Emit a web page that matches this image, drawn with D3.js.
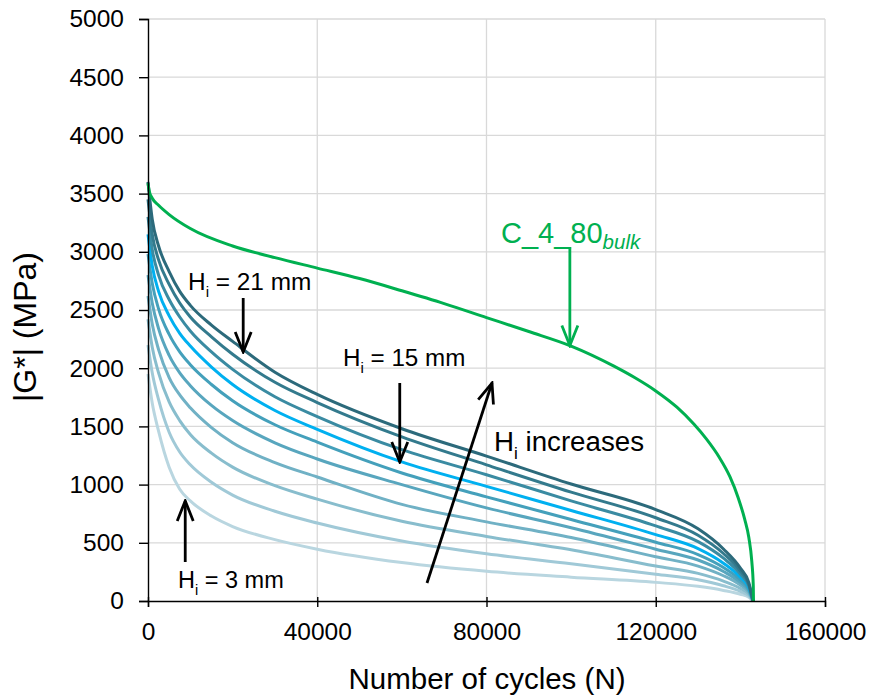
<!DOCTYPE html>
<html>
<head>
<meta charset="utf-8">
<script src="https://cdn.jsdelivr.net/npm/d3@7"></script>
<style>
  body { margin: 0; background: #fff; }
  svg { font-family: Arial, 'Liberation Sans', sans-serif; }
</style>
</head>
<body>
<svg id="chart" width="872" height="698"></svg>
<script>
const cycles = [0, 1000, 2500, 5000, 7500, 10000, 15000, 20000, 30000, 40000, 60000, 80000, 100000, 120000, 130000, 136000, 140000, 142000, 143000]

// |G*| (MPa) for each initial crack height Hi (mm)
const hiValues = [3, 5, 7, 9, 11, 13, 15, 17, 19, 21]
const g_hi3  = [1950, 1700, 1460, 1150,  960,  860,  730,  640,  527,  445,  330,  255,  205, 160, 126,  91,  58,  32, 0]
const g_hi5  = [2200, 1960, 1730, 1450, 1280, 1170, 1020,  910,  771,  670,  515,  405,  320, 230, 182, 131,  83,  46, 0]
const g_hi7  = [2420, 2180, 1960, 1710, 1550, 1430, 1270, 1150,  991,  875,  685,  555,  440, 300, 237, 171, 108,  60, 0]
const g_hi9  = [2620, 2380, 2160, 1920, 1770, 1660, 1490, 1360, 1189, 1065,  830,  680,  545, 380, 300, 217, 137,  76, 0]
const g_hi11 = [2800, 2560, 2340, 2110, 1960, 1850, 1680, 1550, 1359, 1220, 1000,  800,  630, 445, 352, 254, 160,  89, 0]
const g_hi13 = [2980, 2730, 2510, 2290, 2140, 2030, 1860, 1720, 1514, 1365, 1100,  895,  700, 505, 399, 288, 182, 101, 0]
const g_hi15 = [3150, 2880, 2660, 2450, 2300, 2190, 2010, 1860, 1637, 1475, 1195,  985,  778, 570, 450, 325, 205, 114, 0]
const g_hi17 = [3300, 3020, 2800, 2590, 2440, 2320, 2140, 1990, 1755, 1585, 1300, 1085,  860, 645, 510, 368, 232, 129, 0]
const g_hi19 = [3450, 3150, 2930, 2720, 2560, 2440, 2270, 2120, 1879, 1705, 1410, 1170,  935, 715, 565, 408, 257, 143, 0]
const g_hi21 = [3600, 3280, 3050, 2830, 2660, 2540, 2370, 2230, 1966, 1775, 1480, 1245, 1005, 785, 620, 447, 283, 157, 0]
const blueSeries = [g_hi3, g_hi5, g_hi7, g_hi9, g_hi11, g_hi13, g_hi15, g_hi17, g_hi19, g_hi21]
const blueColors = ['#b9d6e0', '#a0c9d7', '#88bdcd', '#70b1c5', '#58a6be', '#44a0bb', '#00b0f0', '#3a8ba2', '#337a8d', '#2c6a7b']

// bulk specimen C_4_80
const bulkCycles = [0, 300, 1000, 2500, 5000, 10000, 20000, 30000, 40000, 50000, 60000, 70000, 80000, 90000, 100000, 110000, 115000, 120000, 125000, 129000, 132000, 135000, 137500, 139500, 141000, 142000, 142700, 143050, 143100]
const bulkValues = [3590, 3520, 3460, 3400, 3320, 3200, 3050, 2950, 2860, 2770, 2665, 2555, 2435, 2315, 2190, 2020, 1920, 1805, 1665, 1520, 1390, 1235, 1070, 885, 705, 545, 340, 130, 0]

const xTicks = [0, 40000, 80000, 120000, 160000]
const yTicks = [0, 500, 1000, 1500, 2000, 2500, 3000, 3500, 4000, 4500, 5000]

const svg = d3.select('#chart')
const x = d3.scaleLinear().domain([0, 160000]).range([148, 825])
const y = d3.scaleLinear().domain([0, 5000]).range([601, 19])

// arrow heads
const defs = svg.append('defs')
function addHead(id, color) {
  defs.append('marker')
    .attr('id', id)
    .attr('markerUnits', 'userSpaceOnUse')
    .attr('viewBox', '0 0 24 20')
    .attr('refX', 22).attr('refY', 10)
    .attr('markerWidth', 24).attr('markerHeight', 20)
    .attr('orient', 'auto')
    .append('path')
    .attr('d', 'M2,2 L22,10 L2,18')
    .attr('fill', 'none')
    .attr('stroke', color)
    .attr('stroke-width', 2.8)
}
addHead('head-black', '#000')
addHead('head-green', '#00b050')

// grid
svg.append('g')
  .selectAll('line')
  .data(yTicks.filter(d => d > 0))
  .join('line')
  .attr('x1', x(0)).attr('x2', x(160000))
  .attr('y1', d => y(d)).attr('y2', d => y(d))
  .attr('stroke', '#d9d9d9').attr('stroke-width', 1.3)
svg.append('g')
  .selectAll('line')
  .data(xTicks.filter(d => d > 0))
  .join('line')
  .attr('x1', d => x(d)).attr('x2', d => x(d))
  .attr('y1', y(0)).attr('y2', y(5000))
  .attr('stroke', '#d9d9d9').attr('stroke-width', 1.3)

// curves
const line = d3.line().curve(d3.curveMonotoneX)
svg.append('g')
  .attr('fill', 'none')
  .attr('stroke-width', 3)
  .attr('stroke-linejoin', 'round')
  .selectAll('path')
  .data(blueSeries)
  .join('path')
  .attr('stroke', (d, i) => blueColors[i])
  .attr('d', vals => line(vals.map((v, i) => [x(cycles[i]), y(v)])))

svg.append('path')
  .attr('fill', 'none')
  .attr('stroke', '#00b050')
  .attr('stroke-width', 3)
  .attr('d', line(bulkValues.map((v, i) => [x(bulkCycles[i]), y(v)])))

// axes
const tickFont = 24.5
const yAxis = svg.append('g')
  .attr('transform', `translate(${x(0)},0)`)
  .call(d3.axisLeft(y).tickValues(yTicks).tickSize(9).tickPadding(15).tickFormat(d3.format('d')))
yAxis.selectAll('text').attr('font-size', tickFont).attr('fill', '#000').attr('font-family', 'Arial, Liberation Sans, sans-serif')

const xAxis = svg.append('g')
  .attr('transform', `translate(0,${y(0)})`)
  .call(d3.axisBottom(x).tickValues(xTicks).tickSize(6).tickPadding(16).tickFormat(d3.format('d')))
xAxis.selectAll('text').attr('font-size', tickFont).attr('fill', '#000').attr('font-family', 'Arial, Liberation Sans, sans-serif')
svg.append('g')
  .attr('transform', `translate(0,${y(0)})`)
  .call(d3.axisTop(x).tickValues(xTicks).tickSize(4).tickFormat(''))
  .select('.domain').remove()
svg.selectAll('.domain, .tick line').attr('stroke', '#000').attr('stroke-width', 1.4)

// axis titles
svg.append('text')
  .attr('transform', `translate(36,327) rotate(-90)`)
  .attr('text-anchor', 'middle')
  .attr('font-size', 32)
  .text('|G*| (MPa)')
svg.append('text')
  .attr('x', 487).attr('y', 689)
  .attr('text-anchor', 'middle')
  .attr('font-size', 29.5)
  .text('Number of cycles (N)')

// annotations
function hiLabel(tx, ty, rest, size) {
  const t = svg.append('text').attr('x', tx).attr('y', ty).attr('font-size', size)
  t.append('tspan').text('H')
  t.append('tspan').attr('font-size', size * 0.62).attr('dy', size * 0.3).text('i')
  t.append('tspan').attr('dy', -size * 0.3).text(rest)
}
function arrow(x1, y1, x2, y2, head, color) {
  svg.append('line')
    .attr('x1', x1).attr('y1', y1).attr('x2', x2).attr('y2', y2)
    .attr('stroke', color).attr('stroke-width', 2.8)
    .attr('marker-end', `url(#${head})`)
}

hiLabel(188, 290, ' = 21 mm', 24.4)
arrow(x(22500), 298, x(22500), y(2140), 'head-black', '#000')

hiLabel(343, 366, ' = 15 mm', 24.2)
arrow(x(59500), 383, x(59500), y(1195), 'head-black', '#000')

hiLabel(178, 588, ' = 3 mm', 23.5)
arrow(x(8800), 562, x(8800), y(860), 'head-black', '#000')

hiLabel(494, 451, ' increases', 27.7)
arrow(427, 583, 492, 383, 'head-black', '#000')

const bulk = svg.append('text').attr('x', 501).attr('y', 243).attr('font-size', 29).attr('fill', '#00b050')
bulk.append('tspan').text('C_4_80')
bulk.append('tspan').attr('font-size', 20.5).attr('font-style', 'italic').attr('dy', 6).text('bulk')
arrow(x(99700), 247, x(99700), y(2195), 'head-green', '#00b050')
</script>
</body>
</html>
